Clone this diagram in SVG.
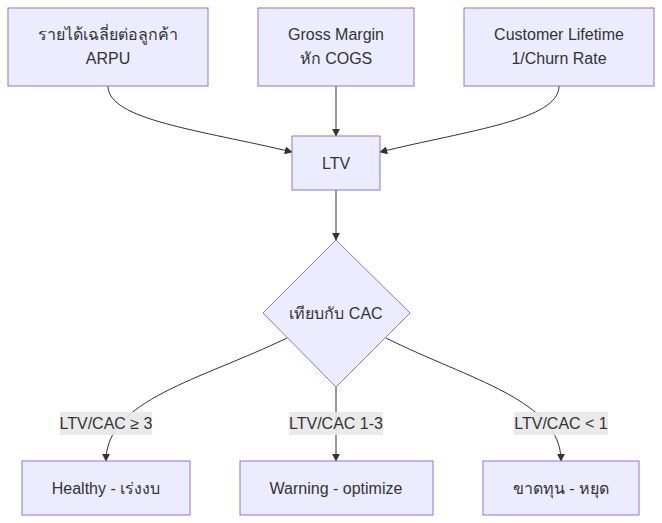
<svg xmlns="http://www.w3.org/2000/svg" width="662" height="523" viewBox="0 0 662 523">
<style>
.n{fill:#ECECFF;stroke:#9370DB;stroke-width:1}
text{font-family:"Liberation Sans","Noto Sans",sans-serif;font-size:16px;fill:#333;text-anchor:middle;dominant-baseline:central}
.e{fill:none;stroke:#333;stroke-width:1}
.lb{fill:#e8e8e8;opacity:0.9}
</style>
<defs><marker id="ar" viewBox="0 0 10 10" refX="9" refY="5" markerWidth="8" markerHeight="8" orient="auto"><path d="M0,0L10,5L0,10z" fill="#333"/></marker></defs>
<rect width="662" height="523" fill="#fff"/>
<g id="edges">
<path class="e" marker-end="url(#ar)" d="M108,86 C108,120 200,130 292,152"/>
<path class="e" marker-end="url(#ar)" d="M336,86 L336,136"/>
<path class="e" marker-end="url(#ar)" d="M559,86 C559,120 470,130 380,152"/>
<path class="e" marker-end="url(#ar)" d="M336,190 L336,240"/>
<path class="e" marker-end="url(#ar)" d="M287,338 C200,380 106,400 106,461"/>
<path class="e" marker-end="url(#ar)" d="M336,387 L336,461"/>
<path class="e" marker-end="url(#ar)" d="M386,338 C470,380 561,400 561,461"/>
<rect class="lb" x="60" y="412" width="92" height="23"/><text x="106" y="423">LTV/CAC ≥ 3</text>
<rect class="lb" x="289" y="412" width="94" height="23"/><text x="336" y="423">LTV/CAC 1-3</text>
<rect class="lb" x="514" y="412" width="94" height="23"/><text x="561" y="423">LTV/CAC &lt; 1</text>
</g>
<g id="A"><rect class="n" x="8" y="8" width="200" height="78"/><text x="108" y="34">รายได้เฉลี่ยต่อลูกค้า</text><text x="108" y="58">ARPU</text></g>
<g id="B"><rect class="n" x="258" y="8" width="156" height="78"/><text x="336" y="34">Gross Margin</text><text x="336" y="58">หัก COGS</text></g>
<g id="C"><rect class="n" x="464" y="8" width="190" height="78"/><text x="559" y="34">Customer Lifetime</text><text x="559" y="58">1/Churn Rate</text></g>
<g id="LTV"><rect class="n" x="292" y="136" width="88" height="54"/><text x="336" y="163">LTV</text></g>
<g id="D"><polygon class="n" points="336,240 410,313 336,387 263,313"/><text x="336" y="313">เทียบกับ CAC</text></g>
<g id="H"><rect class="n" x="22" y="461" width="168" height="54"/><text x="106" y="488">Healthy - เร่งงบ</text></g>
<g id="W"><rect class="n" x="240" y="461" width="193" height="54"/><text x="336" y="488">Warning - optimize</text></g>
<g id="L"><rect class="n" x="483" y="461" width="156" height="54"/><text x="561" y="488">ขาดทุน - หยุด</text></g>
</svg>
